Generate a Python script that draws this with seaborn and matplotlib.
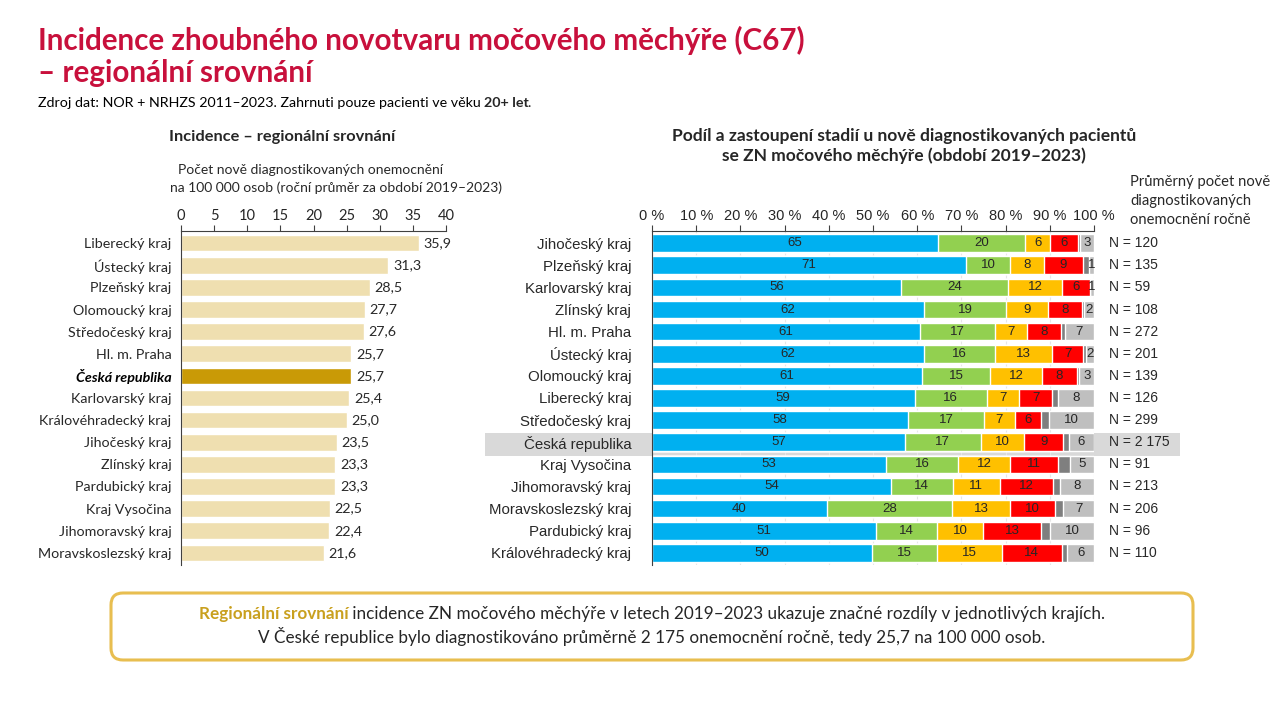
import matplotlib
matplotlib.use("Agg")
import matplotlib.pyplot as plt
from matplotlib.patches import Rectangle, FancyBboxPatch
from matplotlib.transforms import IdentityTransform
import numpy as np
import pandas as pd
import seaborn as sns

sns.set_style("white")
plt.rcParams['font.family'] = ['Lato', 'DejaVu Sans']

# barvy
red_title = (200/255, 16/255, 60/255)
gold = (201/255, 154/255, 6/255)
beige = (239/255, 223/255, 176/255)
text_dark = (40/255, 40/255, 40/255)
stage_colors = ["#00B0F0", "#92D050", "#FFC000", "#FF0000", "#7F7F7F", "#BFBFBF"]

# --- levý graf: incidence na 100 000 osob
inc_regions = ["Liberecký kraj", "Ústecký kraj", "Plzeňský kraj", "Olomoucký kraj",
               "Středočeský kraj", "Hl. m. Praha", "Česká republika", "Karlovarský kraj",
               "Královéhradecký kraj", "Jihočeský kraj", "Zlínský kraj", "Pardubický kraj",
               "Kraj Vysočina", "Jihomoravský kraj", "Moravskoslezský kraj"]
inc_values = [35.9, 31.3, 28.5, 27.7, 27.6, 25.7, 25.7, 25.4, 25.0, 23.5, 23.3, 23.3,
              22.5, 22.4, 21.6]

# --- pravý graf: podíl stadií (%)
st_regions = ["Jihočeský kraj", "Plzeňský kraj", "Karlovarský kraj", "Zlínský kraj",
              "Hl. m. Praha", "Ústecký kraj", "Olomoucký kraj", "Liberecký kraj",
              "Středočeský kraj", "Česká republika", "Kraj Vysočina", "Jihomoravský kraj",
              "Moravskoslezský kraj", "Pardubický kraj", "Královéhradecký kraj"]
stage_I = [64.6, 71.0, 56.3, 61.6, 60.6, 61.6, 61.1, 59.4, 57.9, 57.2, 52.9, 54.0, 39.6, 50.7, 49.8]
stage_II = [19.8, 10.0, 24.2, 18.6, 17.0, 15.9, 15.4, 16.3, 17.2, 17.2, 16.4, 14.1, 28.3, 13.8, 14.7]
stage_III = [5.7, 7.7, 12.3, 9.4, 7.2, 13.1, 11.7, 7.4, 7.0, 9.8, 11.6, 10.6, 13.1, 10.4, 14.6]
stage_IV = [6.3, 8.7, 6.3, 7.7, 7.7, 7.0, 7.9, 7.4, 5.9, 8.8, 10.9, 12.0, 10.2, 13.1, 13.6]
stage_X = [0.5, 1.4, 0.0, 0.5, 0.9, 0.7, 0.6, 1.4, 1.8, 1.3, 2.8, 1.7, 1.8, 2.0, 1.3]
stage_unk = [3.1, 1.2, 0.9, 2.2, 6.6, 1.7, 3.3, 8.1, 10.2, 5.7, 5.4, 7.6, 7.0, 10.0, 6.0]
n_cases = ["120", "135", "59", "108", "272", "201", "139", "126", "299", "2 175", "91",
           "213", "206", "96", "110"]

fig = plt.figure(figsize=(12.8, 7.2), dpi=100)
W, H = 1280, 720

def fx(px):
    return px / W

def fy(py):
    return 1 - py / H

# nadpis
fig.text(fx(38), fy(40), "Incidence zhoubného novotvaru močového měchýře (C67)",
         color=red_title, fontsize=21.3, fontweight='bold', va='center')
fig.text(fx(38), fy(73), "– regionální srovnání",
         color=red_title, fontsize=21.3, fontweight='bold', va='center')

src1 = fig.text(fx(38), fy(103), "Zdroj dat: NOR + NRHZS 2011–2023. Zahrnuti pouze pacienti ve věku ",
                fontsize=10.3, va='center', color='black')
src2 = fig.text(0, 0, "20+ let", fontsize=10.3, fontweight='bold', va='center')
src3 = fig.text(0, 0, ".", fontsize=10.3, va='center')

# ===== levý graf
ax1 = fig.add_axes([fx(181), fy(565), fx(446 - 181), (565 - 231) / H])
df_inc = pd.DataFrame({"kraj": inc_regions, "hodnota": inc_values})
inc_pal = {r: (gold if r == "Česká republika" else beige) for r in inc_regions}
sns.barplot(data=df_inc, x="hodnota", y="kraj", hue="kraj", palette=inc_pal,
            width=0.75, legend=False, ax=ax1, saturation=1)
ax1.set_xlim(0, 40)
ax1.set_ylim(14.55, -0.55)
ax1.xaxis.tick_top()
ax1.set_xticks(range(0, 41, 5))
ax1.tick_params(axis='x', length=4, width=0.8, color='#404040', labelsize=10.5, pad=2)
ax1.set_yticks(range(15))
ax1.set_yticks(np.arange(-0.5, 15, 1), minor=True)
ax1.tick_params(axis='y', which='major', length=0, labelsize=10.3, pad=7)
ax1.tick_params(axis='y', which='minor', length=5, width=0.8, color='#404040')
ax1.set_xlabel("")
ax1.set_ylabel("")
for s in ["right", "bottom"]:
    ax1.spines[s].set_visible(False)
for s in ["top", "left"]:
    ax1.spines[s].set_color('#404040')
    ax1.spines[s].set_linewidth(0.8)
for lab in ax1.get_yticklabels():
    lab.set_color(text_dark)
    if lab.get_text() == "Česká republika":
        lab.set_fontweight('bold')
        lab.set_fontstyle('italic')
        lab.set_color('black')
for i, v in enumerate(inc_values):
    ax1.text(v + 0.7, i, f"{v:.1f}".replace(".", ","), va='center', ha='left',
             fontsize=10.3, color=text_dark)

fig.text(fx(282), fy(137), "Incidence – regionální srovnání", fontsize=11.8,
         fontweight='bold', ha='center', va='center')
fig.text(fx(311), fy(170), "Počet nově diagnostikovaných onemocnění",
         fontsize=10, ha='center', va='center', color=text_dark)
fig.text(fx(336), fy(188), "na 100 000 osob (roční průměr za období 2019–2023)",
         fontsize=10, ha='center', va='center', color=text_dark)

# ===== pravý graf
# zvýraznění řádku ČR
fig.add_artist(Rectangle((fx(485), fy(456)), fx(1180 - 485), 23 / H,
                         transform=fig.transFigure, color="#D9D9D9", zorder=-1, lw=0))

ax2 = fig.add_axes([fx(652), fy(565), fx(1094 - 652), (565 - 231) / H])
ax2.set_facecolor('none')
stages = [stage_I, stage_II, stage_III, stage_IV, stage_X, stage_unk]
cum = np.cumsum(np.array(stages), axis=0)
for k in range(len(stages) - 1, -1, -1):
    df_k = pd.DataFrame({"kraj": st_regions, "cum": cum[k]})
    sns.barplot(data=df_k, x="cum", y="kraj", color=stage_colors[k], width=0.8,
                saturation=1, ax=ax2, zorder=2)
for k in [0, 1, 2, 3, 5]:
    for i in range(len(st_regions)):
        v = stages[k][i]
        ax2.text(cum[k][i] - v / 2, i, f"{round(v)}", ha='center', va='center',
                 fontsize=9.5, color='#262626', family=['Liberation Sans'], zorder=5)
ax2.set_xlim(0, 100)
ax2.set_ylim(14.55, -0.55)
ax2.xaxis.tick_top()
ax2.set_xticks(range(0, 101, 10))
ax2.set_xticklabels([f"{t} %" for t in range(0, 101, 10)], family=['Liberation Sans'])
ax2.tick_params(axis='x', length=4, width=0.8, color='#404040', labelsize=10.5, pad=2)
ax2.set_yticks(range(15))
ax2.set_yticklabels(st_regions, family=['Liberation Sans'])
ax2.set_yticks(np.arange(-0.5, 15, 1), minor=True)
ax2.tick_params(axis='y', which='major', length=0, labelsize=10.8, pad=15)
ax2.tick_params(axis='y', which='minor', length=5, width=0.8, color='#404040')
ax2.grid(axis='x', color='#E6E6E6', lw=0.8, zorder=0)
ax2.set_axisbelow(True)
ax2.set_xlabel("")
ax2.set_ylabel("")
for s in ["right", "bottom"]:
    ax2.spines[s].set_visible(False)
for s in ["top", "left"]:
    ax2.spines[s].set_color('#404040')
    ax2.spines[s].set_linewidth(0.8)
for lab in ax2.get_yticklabels():
    lab.set_color(text_dark)
for i, n in enumerate(n_cases):
    ax2.text(103.5, i, f"N = {n}", ha='left', va='center', fontsize=10,
             color=text_dark, clip_on=False, family=['Liberation Sans'])

fig.text(fx(904), fy(146), "Podíl a zastoupení stadií u nově diagnostikovaných pacientů\nse ZN močového měchýře (období 2019–2023)",
         fontsize=12.5, fontweight='bold', ha='center', va='center', linespacing=1.3)
fig.text(fx(1130), fy(201), "Průměrný počet nově\ndiagnostikovaných\nonemocnění ročně",
         fontsize=10.6, ha='left', va='center', linespacing=1.45, color=text_dark)

# ===== spodní rámeček
fig.add_artist(FancyBboxPatch((111, H - 660), 1082, 67,
                              boxstyle="round,pad=0,rounding_size=12",
                              transform=IdentityTransform(), fc='white',
                              ec=(232/255, 190/255, 80/255), lw=2.2))
b1 = fig.text(0, fy(614), "Regionální srovnání", fontsize=12.3, fontweight='bold',
              color=(201/255, 160/255, 30/255), va='center')
b2 = fig.text(0, fy(614), " incidence ZN močového měchýře v letech 2019–2023 ukazuje značné rozdíly v jednotlivých krajích.",
              fontsize=12.3, va='center')
fig.text(fx(652), fy(637), "V České republice bylo diagnostikováno průměrně 2 175 onemocnění ročně, tedy 25,7 na 100 000 osob.",
         fontsize=12.3, ha='center', va='center')

# poskládání textů s různým formátem
renderer = fig.canvas.get_renderer()
w1 = b1.get_window_extent(renderer).width
w2 = b2.get_window_extent(renderer).width
start = 652 - (w1 + w2) / 2
b1.set_x(fx(start))
b2.set_x(fx(start + w1))
ws = src1.get_window_extent(renderer).width
src2.set_position((fx(38 + ws), fy(103)))
ws2 = src2.get_window_extent(renderer).width
src3.set_position((fx(38 + ws + ws2 - 2), fy(103)))

fig.savefig("out.png", dpi=100)
